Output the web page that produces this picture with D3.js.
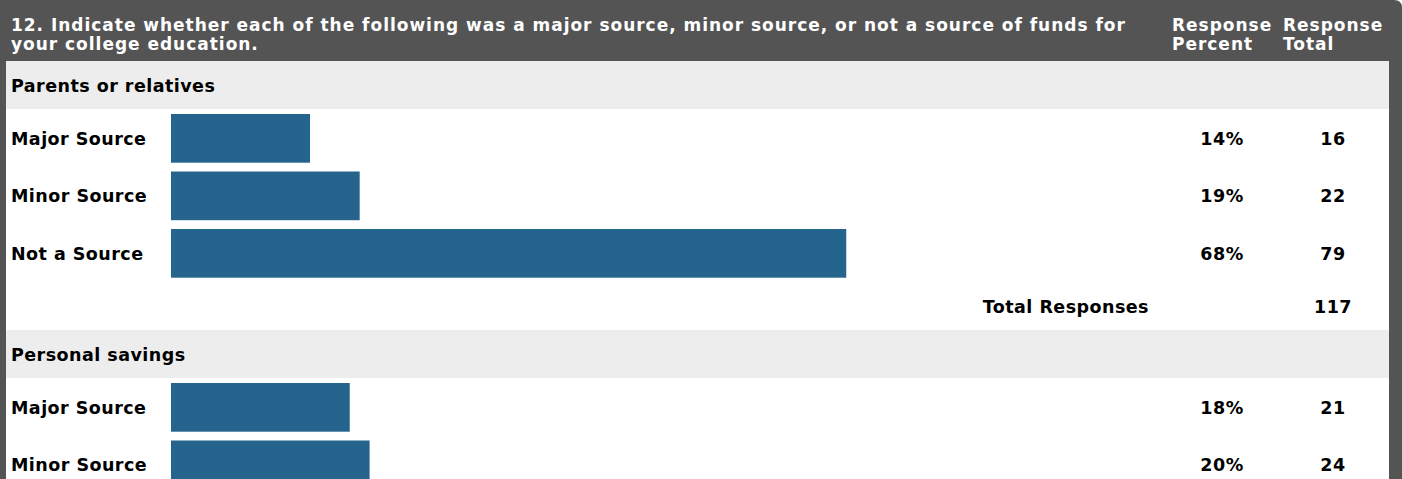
<!DOCTYPE html>
<html>
<head>
<meta charset="utf-8">
<script src="https://cdn.jsdelivr.net/npm/d3@7"></script>
<style>
html,body{margin:0;padding:0;background:#fff;overflow:hidden;}
svg{display:block;}
text{font-family:"DejaVu Sans",Verdana,sans-serif;font-weight:bold;}
</style>
</head>
<body>
<svg id="chart" width="1402" height="479"></svg>
<script>
// ---- data ----
const titleLines = ["12. Indicate whether each of the following was a major source, minor source, or not a source of funds for", "your college education."];
const colHeaders = [["Response", "Percent"], ["Response", "Total"]];
const sections = ["Parents or relatives", "Personal savings"];
const categories = ["Major Source", "Minor Source", "Not a Source"];
const parentsPercent = [14, 19, 68];
const parentsCount = [16, 22, 79];
const parentsTotal = 117;
const savingsPercent = [18, 20];
const savingsCount = [21, 24];
const totalLabel = "Total Responses";

// ---- layout ----
const W = 1402, H = 479;
const frameColor = "#545454", stripe = "#ededed", barColor = "#25648d";
const contentL = 6, contentR = 1389, headerH = 61;
const hdrRowH = 48, barRowH = 57.5, totRowH = 48.5;
const fsTitle = 17, fsLbl = 17.5;
const svg = d3.select("#chart");

// dark frame with rounded top-right
svg.append("path")
  .attr("d", `M0,0 H${W-8} Q${W},0 ${W},8 V${H} H0 Z`)
  .attr("fill", frameColor);
svg.append("rect").attr("x", contentL).attr("y", headerH)
  .attr("width", contentR - contentL).attr("height", H - headerH).attr("fill", "#fff");

// build rows
const rows = [];
const sectionData = [
  {name: sections[0], pct: parentsPercent, cnt: parentsCount, total: parentsTotal},
  {name: sections[1], pct: savingsPercent, cnt: savingsCount, total: null}
];
sectionData.forEach(s => {
  rows.push({type: "header", label: s.name, h: hdrRowH});
  s.pct.forEach((p, i) => rows.push({type: "bar", label: categories[i], pct: p, cnt: s.cnt[i], h: barRowH}));
  rows.push({type: "total", label: totalLabel, cnt: s.total, h: totRowH});
});
let acc = headerH;
rows.forEach(r => { r.y = acc; acc += r.h; });

const x = d3.scaleLinear().domain([0, 100]).range([171, 171 + 993]);

const g = svg.append("g");
const rowG = g.selectAll("g.row").data(rows).join("g").attr("class", "row")
  .attr("transform", d => `translate(0,${d.y})`);

rowG.filter(d => d.type === "header").append("rect")
  .attr("x", contentL).attr("width", contentR - contentL).attr("height", d => d.h).attr("fill", stripe);
rowG.filter(d => d.type === "header").append("text")
  .attr("class", "lbl").attr("x", 11).attr("y", d => d.h / 2 + 7.3).attr("font-size", fsLbl).attr("fill", "#000")
  .text(d => d.label);

const by = 5 + 24.35 + 6.6;
const barRows = rowG.filter(d => d.type === "bar");
barRows.append("rect")
  .attr("x", x(0)).attr("y", 5).attr("height", 48.7)
  .attr("width", d => x(d.pct) - x(0)).attr("fill", barColor);
barRows.append("text").attr("class", "lbl").attr("x", 11).attr("y", by)
  .attr("font-size", fsLbl).attr("fill", "#000").text(d => d.label);
barRows.append("text").attr("class", "lbl").attr("x", 1222).attr("y", by)
  .attr("text-anchor", "middle").attr("font-size", fsLbl).attr("fill", "#000").text(d => d.pct + "%");
barRows.append("text").attr("class", "lbl").attr("x", 1333).attr("y", by)
  .attr("text-anchor", "middle").attr("font-size", fsLbl).attr("fill", "#000").text(d => d.cnt);

const totRows = rowG.filter(d => d.type === "total" && d.cnt != null);
totRows.append("text").attr("class", "lbl").attr("x", 1149).attr("y", 31.8)
  .attr("text-anchor", "end").attr("font-size", fsLbl).attr("fill", "#000").text(d => d.label);
totRows.append("text").attr("class", "lbl").attr("x", 1333).attr("y", 31.8)
  .attr("text-anchor", "middle").attr("font-size", fsLbl).attr("fill", "#000").text(d => d.cnt);

// header title
const title = svg.append("text").attr("class", "ttl").attr("font-size", fsTitle).attr("fill", "#fff");
title.selectAll("tspan").data(titleLines).join("tspan")
  .attr("x", 11).attr("y", (d, i) => 31 + i * 19).text(d => d);
const colX = [1172, 1283];
colHeaders.forEach((lines, c) => {
  const t = svg.append("text").attr("class", "ttl").attr("font-size", fsTitle).attr("fill", "#fff");
  t.selectAll("tspan").data(lines).join("tspan")
    .attr("x", colX[c]).attr("y", (d, i) => 31 + i * 19).text(d => d);
});

// fit letter-spacing to the reference text widths
function fitSpacing(cls, sample, target, fs) {
  const tmp = svg.append("text").attr("font-size", fs).text(sample);
  const w = tmp.node().getComputedTextLength();
  tmp.remove();
  const ls = (target - w) / (sample.length - 1);
  svg.selectAll("text." + cls).attr("letter-spacing", ls.toFixed(2));
}
fitSpacing("ttl", titleLines[0], 1114, fsTitle);
fitSpacing("lbl", "Major Source", 135, fsLbl);
</script>
</body>
</html>
